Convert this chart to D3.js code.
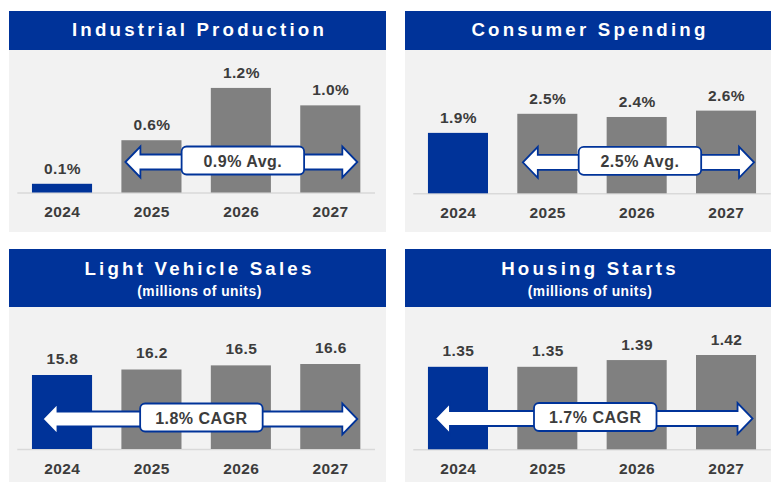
<!DOCTYPE html>
<html>
<head>
<meta charset="utf-8">
<script src="https://cdn.jsdelivr.net/npm/d3@7/dist/d3.min.js"></script>
<style>
  html, body { margin: 0; padding: 0; background: #ffffff; }
  svg { display: block; }
  text { font-family: "Liberation Sans", Arial, sans-serif; font-weight: bold; }
</style>
</head>
<body>
<svg id="chart" width="771" height="483"></svg>
<script>
// Forecast years shared by every panel
const categories = ["2024", "2025", "2026", "2027"];

// Series values per panel
const industrialProduction = [0.1, 0.6, 1.2, 1.0];
const consumerSpending = [1.9, 2.5, 2.4, 2.6];
const lightVehicleSales = [15.8, 16.2, 16.5, 16.6];
const housingStarts = [1.35, 1.35, 1.39, 1.42];

// Panel titles and the summary shown on each arrow
const titles = ["Industrial Production", "Consumer Spending", "Light Vehicle Sales", "Housing Starts"];
const subtitles = [null, null, "(millions of units)", "(millions of units)"];
const arrowLabels = ["0.9% Avg.", "2.5% Avg.", "1.8% CAGR", "1.7% CAGR"];

const BLUE = "#003399";
const GREY_BAR = "#808080";
const PANEL_BG = "#f2f2f2";
const TEXT = "#3c3c3c";

// Layout of the four panels
const panels = [
  { values: industrialProduction, fmt: v => d3.format(".1f")(v) + "%",
    x0: 9, x1: 386, top: 11, headH: 39, bottom: 232, base: 192.5,
    domain: [0, 1.4], domainTopY: 70.5, band: [17.3, 375],
    arrowFrom: 1, insetL: 4, insetR: 3, arrowY: 162, labelGap: 10 },
  { values: consumerSpending, fmt: v => d3.format(".1f")(v) + "%",
    x0: 405, x1: 771, top: 11, headH: 39, bottom: 232, base: 193.3,
    domain: [0, 3], domainTopY: 97.9, band: [413.3, 770.7],
    arrowFrom: 1, insetL: 5.5, insetR: 2, arrowY: 162.3, labelGap: 10 },
  { values: lightVehicleSales, fmt: v => d3.format(".1f")(v),
    x0: 9, x1: 386, top: 249, headH: 58, bottom: 482, base: 449,
    domain: [10.42, 16.6], domainTopY: 364, band: [17.3, 375],
    arrowFrom: 0, insetL: 10.5, insetR: 3, arrowY: 419, labelGap: 11.5 },
  { values: housingStarts, fmt: v => d3.format(".2f")(v),
    x0: 405, x1: 771, top: 249, headH: 58, bottom: 482, base: 449.3,
    domain: [0.861, 1.42], domainTopY: 355, band: [413.3, 770.7],
    arrowFrom: 0, insetL: 7, insetR: 3.5, arrowY: 418.5, labelGap: 10.5 }
];

const svg = d3.select("#chart");

panels.forEach((p, i) => {
  const g = svg.append("g");

  // panel background and header band
  g.append("rect")
    .attr("x", p.x0).attr("y", p.top)
    .attr("width", p.x1 - p.x0).attr("height", p.bottom - p.top)
    .attr("fill", PANEL_BG);
  g.append("rect")
    .attr("x", p.x0).attr("y", p.top)
    .attr("width", p.x1 - p.x0).attr("height", p.headH)
    .attr("fill", BLUE);

  const cx = (p.x0 + p.x1) / 2 + 2;
  const titleY = subtitles[i] ? p.top + 25.5 : p.top + 25;
  g.append("text")
    .attr("x", cx).attr("y", titleY)
    .attr("text-anchor", "middle")
    .attr("fill", "#ffffff")
    .style("font-size", "18.7px")
    .style("letter-spacing", "3.2px")
    .text(titles[i]);
  if (subtitles[i]) {
    g.append("text")
      .attr("x", cx).attr("y", p.top + 46.5)
      .attr("text-anchor", "middle")
      .attr("fill", "#ffffff")
      .style("font-size", "13.8px")
      .style("letter-spacing", "0.5px")
      .text(subtitles[i]);
  }

  // scales
  const x = d3.scaleBand()
    .domain(categories)
    .range(p.band)
    .paddingInner(0.328)
    .paddingOuter(0.164);
  const y = d3.scaleLinear()
    .domain(p.domain)
    .range([p.base, p.domainTopY]);

  // baseline
  g.append("line")
    .attr("x1", p.band[0]).attr("x2", p.band[1])
    .attr("y1", p.base + 0.5).attr("y2", p.base + 0.5)
    .attr("stroke", "#d9d9d9").attr("stroke-width", 1.5);

  const data = categories.map((c, k) => ({ year: c, value: p.values[k], actual: k === 0 }));

  // bars
  g.selectAll("rect.bar").data(data).enter().append("rect")
    .attr("class", "bar")
    .attr("x", d => x(d.year))
    .attr("width", x.bandwidth())
    .attr("y", d => y(d.value))
    .attr("height", d => p.base - y(d.value))
    .attr("fill", d => d.actual ? BLUE : GREY_BAR);

  // value labels
  g.selectAll("text.val").data(data).enter().append("text")
    .attr("class", "val")
    .attr("x", d => x(d.year) + x.bandwidth() / 2 + 0.5)
    .attr("y", d => y(d.value) - p.labelGap)
    .attr("text-anchor", "middle")
    .attr("fill", TEXT)
    .style("font-size", "15.5px")
    .style("letter-spacing", "0.4px")
    .text(d => p.fmt(d.value));

  // year axis labels
  const axis = d3.axisBottom(x).tickSize(0).tickPadding(0);
  const ax = g.append("g")
    .attr("transform", `translate(0,${p.base})`)
    .call(axis);
  ax.select(".domain").remove();
  ax.selectAll("text")
    .attr("y", 24.5)
    .attr("dy", 0)
    .attr("dx", "0.3px")
    .attr("fill", TEXT)
    .style("font-family", "'Liberation Sans', Arial, sans-serif")
    .style("font-weight", "bold")
    .style("font-size", "15.5px")
    .style("letter-spacing", "0.4px");

  // double-headed arrow spanning the forecast period
  const ax0 = x(categories[p.arrowFrom]) + p.insetL;
  const ax1 = x(categories[categories.length - 1]) + x.bandwidth() - p.insetR;
  const cy = p.arrowY, sh = 7.5, hh = 15.5, hl = 15;
  const pts = [
    [ax0, cy], [ax0 + hl, cy - hh], [ax0 + hl, cy - sh], [ax1 - hl, cy - sh],
    [ax1 - hl, cy - hh], [ax1, cy], [ax1 - hl, cy + hh], [ax1 - hl, cy + sh],
    [ax0 + hl, cy + sh], [ax0 + hl, cy + hh]
  ];
  g.append("path")
    .attr("d", d3.line()(pts) + "Z")
    .attr("fill", "#ffffff")
    .attr("stroke", BLUE)
    .attr("stroke-width", 1.8)
    .attr("stroke-linejoin", "miter");

  // label box on the arrow
  const bw = 122.5, bh = 28;
  const bcx = (ax0 + ax1) / 2 + 1.5;
  const bcy = cy - 1.5;
  g.append("rect")
    .attr("x", bcx - bw / 2).attr("y", bcy - bh / 2)
    .attr("width", bw).attr("height", bh)
    .attr("rx", 5).attr("ry", 5)
    .attr("fill", "#ffffff")
    .attr("stroke", BLUE)
    .attr("stroke-width", 1.8);
  g.append("text")
    .attr("x", bcx).attr("y", bcy + 6)
    .attr("text-anchor", "middle")
    .attr("fill", TEXT)
    .style("font-size", "16px")
    .style("letter-spacing", "0.5px")
    .text(arrowLabels[i]);
});
</script>
</body>
</html>
